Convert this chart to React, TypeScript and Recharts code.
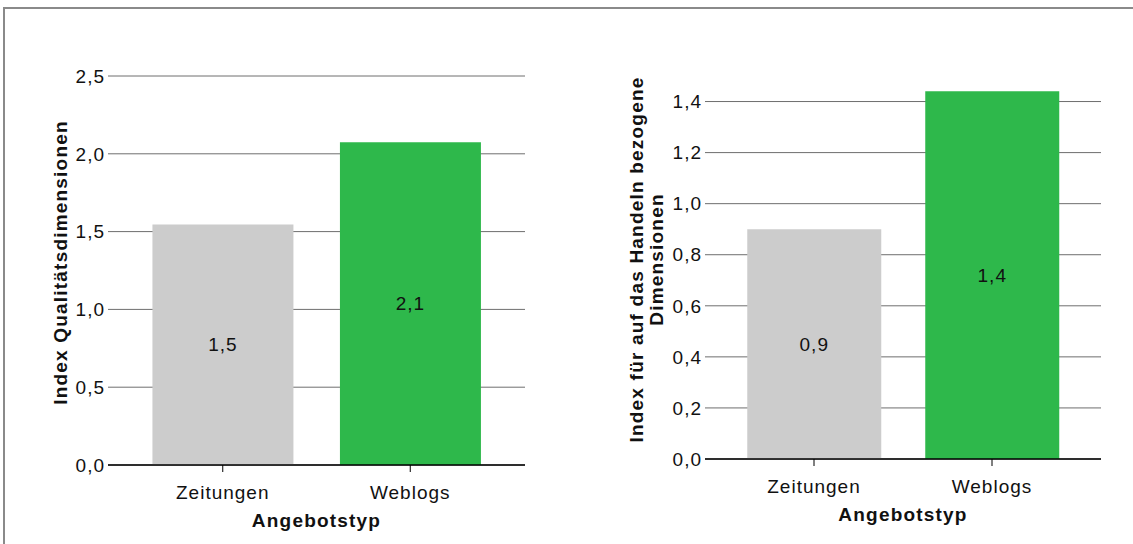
import * as React from 'react'
import { BarChart, Bar, XAxis, YAxis, CartesianGrid, Cell, LabelList } from 'recharts'

const categories = ['Zeitungen', 'Weblogs']
const qualityValues = [1.546, 2.074]
const actionValues = [0.9, 1.44]
const barColors = ['#cccccc', '#2eb84b']

const leftTicks = [0, 0.5, 1.0, 1.5, 2.0, 2.5]
const rightTicks = [0, 0.2, 0.4, 0.6, 0.8, 1.0, 1.2, 1.4]

const leftTitle = ['Index Qualitätsdimensionen']
const rightTitle = ['Index für auf das Handeln bezogene', 'Dimensionen']
const xTitle = 'Angebotstyp'

const FONT = 'Arial, "Liberation Sans", Helvetica, sans-serif'
const fmt = (v: number) => v.toFixed(1).replace('.', ',')

const textStyle = { fill: '#111', fontSize: 19, fontFamily: FONT, letterSpacing: 1 }

interface PanelProps {
  values:  number[]
  ticks:   number[]
  domain:  [number, number]
  title:   string[]
  width:   number
  height:  number
  margin:  { top: number; right: number; bottom: number; left: number }
  yWidth:  number
  padding: number
  titleX:  number
}

function Panel({ values, ticks, domain, title, width, height, margin, yWidth, padding, titleX }: PanelProps) {
  const data = categories.map((c, i) => ({ name: c, value: values[i] }))
  return (
    <BarChart width={width} height={height} data={data} margin={margin} barCategoryGap="12.5%">
      <CartesianGrid horizontal vertical={false} horizontalValues={ticks} stroke="#6e6e6e" strokeWidth={1} />
      <XAxis
        dataKey="name"
        height={30}
        padding={{ left: padding, right: padding }}
        axisLine={{ stroke: '#000', strokeWidth: 1.5 }}
        tickLine={{ stroke: '#000' }}
        tickSize={7}
        tickMargin={14}
        tick={textStyle}
        label={({ viewBox }: any) => (
          <text
            x={viewBox.x + viewBox.width / 2}
            y={viewBox.y + 62}
            textAnchor="middle"
            fontSize={19}
            fontWeight="bold"
            fontFamily={FONT}
            letterSpacing={1.2}
            fill="#111"
          >
            {xTitle}
          </text>
        )}
      />
      <YAxis
        type="number"
        domain={domain}
        ticks={ticks}
        interval={0}
        width={yWidth}
        axisLine={false}
        tickLine={false}
        tickSize={3}
        tickMargin={0}
        tickFormatter={fmt}
        tick={textStyle}
        label={({ viewBox }: any) => {
          const cy = viewBox.y + viewBox.height / 2 - 8
          return (
            <g>
              {title.map((t, i) => {
                const x = viewBox.x + titleX + i * 20
                return (
                  <text
                    key={t}
                    x={x}
                    y={cy}
                    transform={`rotate(-90 ${x} ${cy})`}
                    textAnchor="middle"
                    dominantBaseline="central"
                    fontSize={19}
                    fontWeight="bold"
                    fontFamily={FONT}
                    letterSpacing={1.2}
                    fill="#111"
                  >
                    {t}
                  </text>
                )
              })}
            </g>
          )
        }}
      />
      <Bar dataKey="value" isAnimationActive={false}>
        {data.map((d, i) => (
          <Cell key={d.name} fill={barColors[i]} />
        ))}
        <LabelList
          dataKey="value"
          position="center"
          formatter={(v: any) => fmt(Number(v))}
          style={textStyle}
        />
      </Bar>
    </BarChart>
  )
}

export default function App() {
  return (
    <div style={{ position: 'fixed', left: 0, top: 0, width: 1133, height: 544, background: '#fff', overflow: 'hidden' }}>
      <div
        style={{
          position: 'absolute', left: 3, top: 7, width: 1140, height: 560,
          borderLeft: '2px solid #8a8a8a', borderTop: '2px solid #8a8a8a',
        }}
      />
      <div style={{ position: 'absolute', left: 0, top: 0 }}>
        <Panel
          values={qualityValues}
          ticks={leftTicks}
          domain={[0, 2.5]}
          title={leftTitle}
          width={560}
          height={544}
          margin={{ top: 76, right: 35, bottom: 49, left: 40 }}
          yWidth={68}
          padding={21}
          titleX={20}
        />
      </div>
      <div style={{ position: 'absolute', left: 566, top: 0 }}>
        <Panel
          values={actionValues}
          ticks={rightTicks}
          domain={[0, 1.5]}
          title={rightTitle}
          width={567}
          height={544}
          margin={{ top: 76, right: 32, bottom: 55, left: 60 }}
          yWidth={79}
          padding={20}
          titleX={10}
        />
      </div>
    </div>
  )
}
